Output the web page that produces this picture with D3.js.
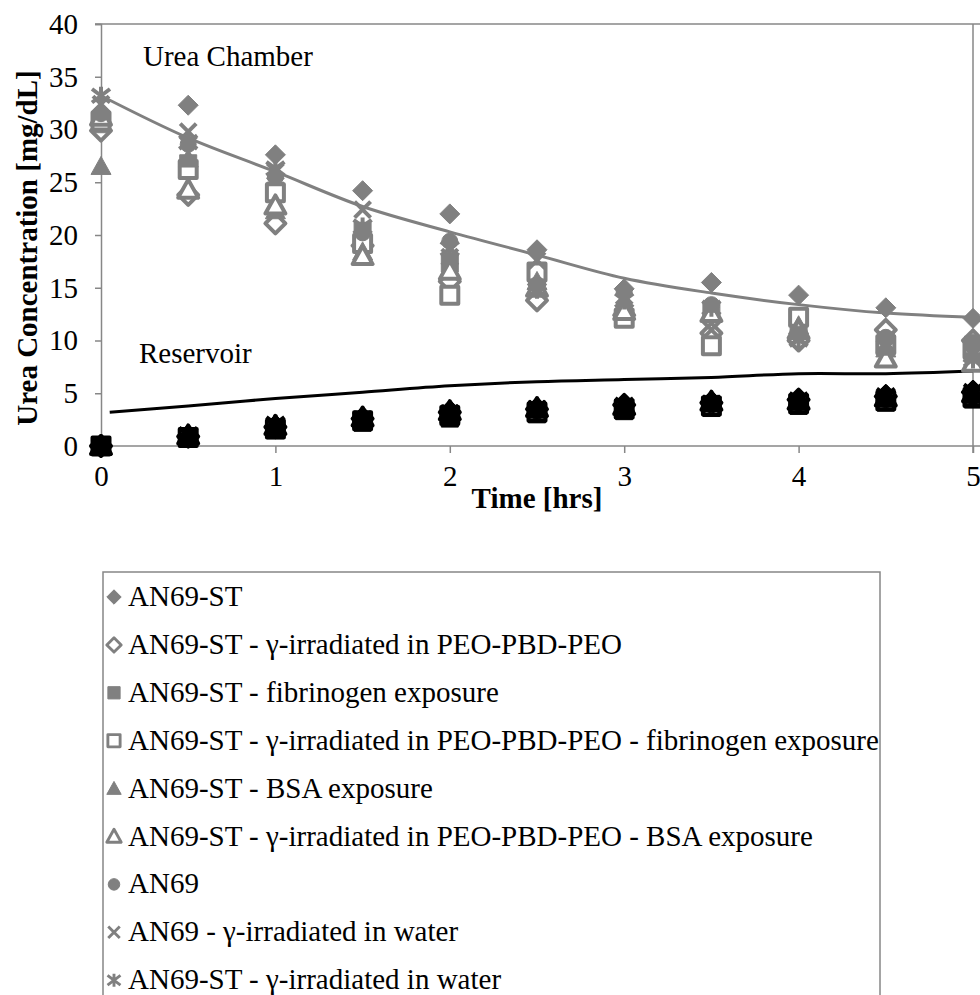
<!DOCTYPE html>
<html>
<head>
<meta charset="utf-8">
<script src="https://cdn.jsdelivr.net/npm/d3@7"></script>
<style>
  body { margin: 0; background: #fff; }
  svg text { font-family: "Times New Roman", "Liberation Serif", "DejaVu Serif", serif; fill: #000; }
</style>
</head>
<body>
<svg id="chart"></svg>
<script>
// time points (hrs)
var times = [0, 0.5, 1, 1.5, 2, 2.5, 3, 3.5, 4, 4.5, 5];

// urea chamber series (mg/dL)
var an69st        = [29.8, 32.3, 27.6, 24.2, 22.0, 18.6, 14.9, 15.5, 14.3, 13.1, 12.1];
var an69stPeo     = [29.9, 23.8, 21.1, 19.0, 15.6, 13.8, 12.4, 10.7, 10.0, 11.0, 10.0];
var an69stFib     = [30.5, 26.8, 24.2, 20.4, 17.3, 16.0, 12.3, 12.9, 11.8, 10.0, 9.6];
var an69stPeoFib  = [30.8, 26.2, 24.0, 19.2, 14.3, 16.5, 12.1, 9.5, 12.2, 9.6, 9.2];
var an69stBsa     = [26.5, 27.2, 22.3, 18.4, 16.8, 15.6, 13.4, 12.7, 11.4, 9.2, 8.8];
var an69stPeoBsa  = [31.2, 24.3, 22.8, 18.0, 16.6, 15.0, 12.8, 12.6, 11.0, 8.3, 7.9];
var an69          = [31.5, 28.6, 25.5, 20.2, 19.4, 15.3, 14.6, 13.4, 10.6, 10.3, 9.8];
var an69Water     = [32.4, 29.8, 26.0, 22.4, 17.9, 17.6, 14.2, 11.0, 10.3, 9.8, 8.6];
var an69stWater   = [33.2, 28.8, 26.3, 20.8, 18.7, 14.8, 13.8, 13.1, 10.1, 9.4, 8.2];

// reservoir series (mg/dL)
var resAn69st       = [0, 1.0, 2.0, 2.8, 3.4, 3.7, 4.0, 4.3, 4.5, 4.9, 5.3];
var resAn69stPeo    = [0, 0.9, 1.8, 2.6, 3.2, 3.5, 3.9, 4.1, 4.4, 4.7, 5.1];
var resAn69stFib    = [0, 0.7, 1.5, 2.2, 2.6, 3.0, 3.3, 3.6, 3.8, 4.1, 4.4];
var resAn69stPeoFib = [0, 0.8, 1.6, 2.4, 2.9, 3.2, 3.5, 3.8, 4.0, 4.3, 4.6];
var resAn69stBsa    = [0, 0.9, 1.7, 2.5, 3.0, 3.4, 3.7, 4.0, 4.2, 4.5, 4.8];
var resAn69stPeoBsa = [0, 1.0, 1.9, 2.7, 3.3, 3.6, 3.8, 4.2, 4.3, 4.6, 5.0];
var resAn69         = [0, 0.8, 1.7, 2.3, 2.8, 3.3, 3.6, 3.9, 4.1, 4.4, 4.7];
var resAn69Water    = [0, 0.9, 1.8, 2.5, 3.1, 3.5, 3.7, 4.0, 4.2, 4.5, 4.9];
var resAn69stWater  = [0, 1.1, 2.1, 2.6, 3.2, 3.6, 3.9, 4.1, 4.4, 4.8, 5.2];

// fitted curves
var chamberFit = [33.2, 29.2, 26.0, 22.7, 20.3, 18.1, 15.9, 14.5, 13.4, 12.6, 12.2];
var reservoirTimes = [0.05, 0.5, 1, 1.5, 2, 2.5, 3, 3.5, 4, 4.5, 5];
var reservoirFit = [3.2, 3.8, 4.5, 5.1, 5.7, 6.1, 6.3, 6.5, 6.85, 6.85, 7.1];

var seriesNames = [
  "AN69-ST",
  "AN69-ST - \u03b3-irradiated in PEO-PBD-PEO",
  "AN69-ST - fibrinogen exposure",
  "AN69-ST - \u03b3-irradiated in PEO-PBD-PEO - fibrinogen exposure",
  "AN69-ST - BSA exposure",
  "AN69-ST - \u03b3-irradiated in PEO-PBD-PEO - BSA exposure",
  "AN69",
  "AN69 - \u03b3-irradiated in water",
  "AN69-ST - \u03b3-irradiated in water"
];
var markerTypes = ["diamond", "diamondOpen", "square", "squareOpen", "triangle", "triangleOpen", "circle", "x", "star"];
var chamberValues = [an69st, an69stPeo, an69stFib, an69stPeoFib, an69stBsa, an69stPeoBsa, an69, an69Water, an69stWater];
var reservoirValues = [resAn69st, resAn69stPeo, resAn69stFib, resAn69stPeoFib, resAn69stBsa, resAn69stPeoBsa, resAn69, resAn69Water, resAn69stWater];

var yTicks = [0, 5, 10, 15, 20, 25, 30, 35, 40];
var xTicks = [0, 1, 2, 3, 4, 5];

var screen = { width: 980, height: 995 };
var margins = { top: 24, left: 101, bottom: 549, right: 7 };

var serif = "'Times New Roman', 'Liberation Serif', 'DejaVu Serif', serif";
var grey = "#808080";
var axisGrey = "#878787";
var fontSize = 29;

// marker path, s = half size
var markerPath = function(type, s) {
  var base = type.replace("Open", "");
  if (base == "diamond") return "M0," + (-s) + "L" + s + ",0L0," + s + "L" + (-s) + ",0Z";
  if (base == "square") return "M" + (-s) + "," + (-s) + "h" + (2 * s) + "v" + (2 * s) + "h" + (-2 * s) + "Z";
  if (base == "triangle") return "M0," + (-s) + "L" + s + "," + (s * 0.8) + "L" + (-s) + "," + (s * 0.8) + "Z";
  if (base == "circle") {
    var p = d3.path(); p.arc(0, 0, s, 0, 2 * Math.PI); p.closePath(); return p.toString();
  }
  if (base == "x") return "M" + (-s) + "," + (-s) + "L" + s + "," + s + "M" + s + "," + (-s) + "L" + (-s) + "," + s;
  // star = x plus vertical bar
  return "M" + (-s) + "," + (-s * 0.75) + "L" + s + "," + (s * 0.75) + "M" + s + "," + (-s * 0.75) + "L" + (-s) + "," + (s * 0.75) + "M0," + (-s) + "L0," + s;
};

var markerSize = { diamond: 10, square: 8.5, triangle: 10, circle: 8, x: 8, star: 9 };

var drawMarker = function(sel, type, scale, color) {
  var base = type.replace("Open", "");
  var open = type.indexOf("Open") >= 0;
  var s = markerSize[base] * scale;
  sel.append("path")
     .attr("d", markerPath(type, s))
     .attr("fill", (base == "x" || base == "star") ? "none" : (open ? "#fff" : color))
     .attr("stroke", color)
     .attr("stroke-width", (open || base == "x" || base == "star") ? 4 * scale : 1)
     .attr("stroke-linejoin", "round");
};

var drawChart = function(svgSelector) {
  var graphWidth = 973 - margins.left;
  var graphHeight = 446 - margins.top;

  var xScale = d3.scaleLinear().domain([0, 5]).range([margins.left, margins.left + graphWidth]);
  var yScale = d3.scaleLinear().domain([0, 40]).range([margins.top + graphHeight, margins.top]);

  var svg = d3.select(svgSelector)
              .attr("width", screen.width)
              .attr("height", screen.height)
              .attr("font-family", serif);

  // top and right frame lines
  svg.append("line").attr("x1", 95).attr("x2", 980)
     .attr("y1", yScale(40)).attr("y2", yScale(40))
     .attr("stroke", axisGrey).attr("stroke-width", 1.5);
  svg.append("line").attr("x1", xScale(5)).attr("x2", xScale(5))
     .attr("y1", yScale(40)).attr("y2", yScale(0) + 7)
     .attr("stroke", axisGrey).attr("stroke-width", 1.5);

  var xAxis = d3.axisBottom(xScale).tickValues(xTicks).tickSize(7).tickPadding(12).tickFormat(d3.format("d"));
  var yAxis = d3.axisLeft(yScale).tickValues(yTicks).tickSize(6).tickPadding(17).tickFormat(d3.format("d"));

  var gx = svg.append("g").attr("transform", "translate(0," + yScale(0) + ")").call(xAxis);
  var gy = svg.append("g").attr("transform", "translate(" + margins.left + ",0)").call(yAxis);
  [gx, gy].forEach(function(g) {
    g.attr("font-family", serif);
    g.select(".domain").attr("stroke", axisGrey).attr("stroke-width", 1.5);
    g.selectAll(".tick line").attr("stroke", axisGrey).attr("stroke-width", 1.5);
    g.selectAll("text").attr("font-size", fontSize).attr("fill", "#000").style("font-family", serif);
  });
  gx.select(".domain").attr("d", "M" + margins.left + ",0H980");

  // fitted curves
  var lineDrawer = d3.line()
                     .x(function(d) { return xScale(d[0]); })
                     .y(function(d) { return yScale(d[1]); })
                     .curve(d3.curveCatmullRom);

  svg.append("path")
     .datum(times.map(function(t, i) { return [t, chamberFit[i]]; }))
     .attr("d", lineDrawer)
     .attr("fill", "none").attr("stroke", grey).attr("stroke-width", 3);

  svg.append("path")
     .datum(reservoirTimes.map(function(t, i) { return [t, reservoirFit[i]]; }))
     .attr("d", lineDrawer)
     .attr("fill", "none").attr("stroke", "#000").attr("stroke-width", 3);

  // chamber markers
  chamberValues.forEach(function(vals, si) {
    var g = svg.append("g").classed("series", true);
    vals.forEach(function(v, i) {
      var m = g.append("g").attr("transform", "translate(" + xScale(times[i]) + "," + yScale(v) + ")");
      drawMarker(m, markerTypes[si], 1, grey);
    });
  });

  // reservoir markers
  reservoirValues.forEach(function(vals, si) {
    var g = svg.append("g").classed("series reservoir", true);
    vals.forEach(function(v, i) {
      var m = g.append("g").attr("transform", "translate(" + xScale(times[i]) + "," + yScale(v) + ")");
      drawMarker(m, markerTypes[si], 1, "#000");
    });
  });

  // annotations
  svg.append("text").text("Urea Chamber").attr("x", 143).attr("y", 66).attr("font-size", fontSize);
  svg.append("text").text("Reservoir").attr("x", 139).attr("y", 363).attr("font-size", fontSize);

  // axis titles
  svg.append("text").text("Time [hrs]")
     .attr("x", (xScale(0) + xScale(5)) / 2).attr("y", 508)
     .attr("text-anchor", "middle").attr("font-size", fontSize).attr("font-weight", "bold");
  svg.append("text").text("Urea Concentration [mg/dL]")
     .attr("transform", "translate(37,248) rotate(-90)")
     .attr("text-anchor", "middle").attr("font-size", fontSize).attr("font-weight", "bold");

  // legend
  var legend = svg.append("g").classed("legend", true);
  legend.append("rect")
        .attr("x", 103).attr("y", 572).attr("width", 777).attr("height", 500)
        .attr("fill", "#fff").attr("stroke", axisGrey).attr("stroke-width", 1.5);
  seriesNames.forEach(function(name, i) {
    var y = 597 + i * 47.9;
    var m = legend.append("g").attr("transform", "translate(114," + y + ")");
    drawMarker(m, markerTypes[i], 0.72, grey);
    legend.append("text").text(name)
          .attr("x", 128).attr("y", y + 9).attr("font-size", fontSize);
  });
};

drawChart("#chart");
</script>
</body>
</html>
